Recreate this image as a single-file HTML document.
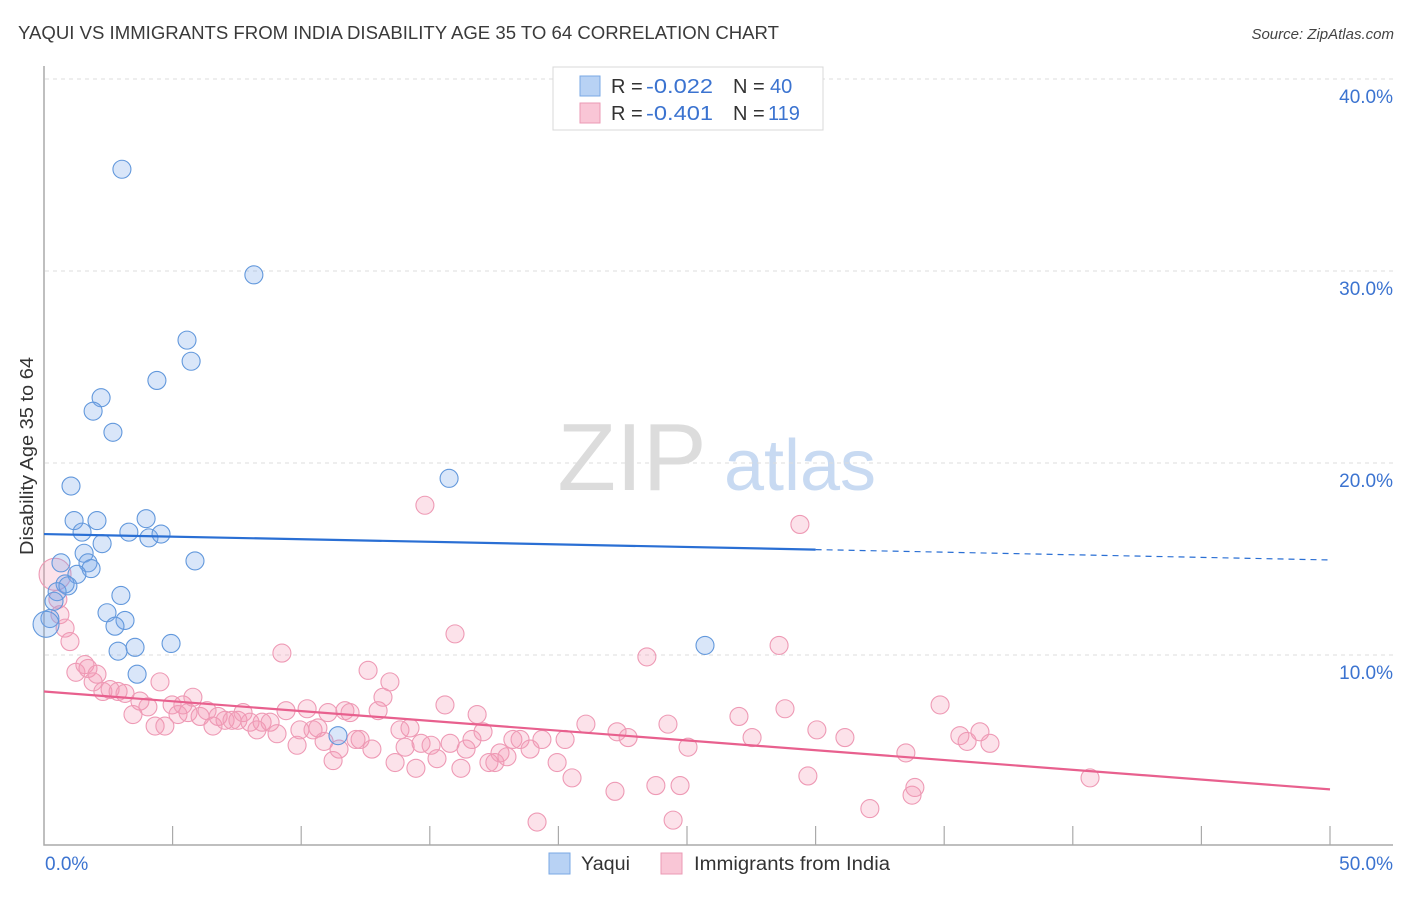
<!DOCTYPE html>
<html><head><meta charset="utf-8"><style>
body{margin:0;background:#fff;font-family:"Liberation Sans",sans-serif;}
svg text{font-family:"Liberation Sans",sans-serif;}
</style></head><body>
<svg id="chart" width="1406" height="892" viewBox="0 0 1406 892" xmlns="http://www.w3.org/2000/svg">
<text x="18" y="39" font-size="18" fill="#3a3a3a" textLength="761" lengthAdjust="spacingAndGlyphs">YAQUI VS IMMIGRANTS FROM INDIA DISABILITY AGE 35 TO 64 CORRELATION CHART</text>
<text x="1394" y="39" font-size="15" fill="#444" font-style="italic" text-anchor="end">Source: ZipAtlas.com</text>
<g>
<text x="632" y="490" font-size="96" fill="#dcdcdc" font-family="Liberation Serif, serif" text-anchor="middle">ZIP</text>
<text x="800" y="490" font-size="72" fill="#c8daf2" text-anchor="middle">atlas</text>
</g>
<g id="grid"></g>
<g id="axes"></g>
<g id="pts"></g>
<g id="trend"></g>
<text transform="translate(33,456) rotate(-90)" font-size="18" fill="#333" text-anchor="middle" textLength="198" lengthAdjust="spacingAndGlyphs">Disability Age 35 to 64</text>
<g>
<rect x="553" y="67" width="270" height="63" fill="#fff" stroke="#d8d8d8"/>
<rect x="580" y="76" width="20" height="20" fill="#b8d2f4" stroke="#7aa8e4"/>
<rect x="580" y="103" width="20" height="20" fill="#f9c6d6" stroke="#eb9ab4"/>
<text x="611" y="93" font-size="20" fill="#333">R =</text>
<text x="646" y="93" font-size="20" fill="#3b73d0" textLength="67" lengthAdjust="spacingAndGlyphs">-0.022</text>
<text x="733" y="93" font-size="20" fill="#333">N =</text>
<text x="770" y="93" font-size="20" fill="#3b73d0">40</text>
<text x="611" y="120" font-size="20" fill="#333">R =</text>
<text x="646" y="120" font-size="20" fill="#3b73d0" textLength="67" lengthAdjust="spacingAndGlyphs">-0.401</text>
<text x="733" y="120" font-size="20" fill="#333">N =</text>
<text x="768" y="120" font-size="20" fill="#3b73d0">119</text>
</g>
<g>
<rect x="549" y="853" width="21" height="21" fill="#b8d2f4" stroke="#7aa8e4"/>
<text x="581" y="870" font-size="19" fill="#333" textLength="49" lengthAdjust="spacingAndGlyphs">Yaqui</text>
<rect x="661" y="853" width="21" height="21" fill="#f9c6d6" stroke="#eb9ab4"/>
<text x="694" y="870" font-size="19" fill="#333" textLength="196" lengthAdjust="spacingAndGlyphs">Immigrants from India</text>
</g>
</svg>
<script>
const yTicks=[10,20,30,40];
const yTickLabels=["10.0%","20.0%","30.0%","40.0%"];
const xTickLabels=["0.0%","50.0%"];
const yaquiX=[3.03,8.16,5.56,5.72,4.39,2.22,1.91,2.68,15.75,1.05,1.17,2.06,3.97,1.48,3.30,4.08,4.55,2.26,1.56,5.87,0.66,1.71,1.83,1.28,0.82,0.93,0.51,2.99,0.39,2.45,3.15,2.76,0.23,2.88,3.54,4.94,3.62,11.43,25.70,0.08];
const yaquiY=[35.3,29.8,26.4,25.3,24.3,23.4,22.7,21.6,19.2,18.8,17.0,17.0,17.1,16.4,16.4,16.1,16.3,15.8,15.3,14.9,14.8,14.8,14.5,14.2,13.7,13.6,13.3,13.1,12.8,12.2,11.8,11.5,11.9,10.2,10.4,10.6,9.0,5.8,10.5,11.6];
const indiaX=[0.43,0.54,0.62,0.82,1.01,1.24,1.59,1.71,1.91,2.06,2.29,2.57,2.88,3.15,3.46,3.73,4.04,4.32,4.51,4.70,4.98,5.21,5.40,5.60,5.79,6.07,6.34,6.57,6.77,7.04,7.31,7.54,7.74,8.01,8.28,8.48,8.79,9.06,9.25,9.41,9.84,9.95,10.23,10.46,10.65,10.89,11.04,11.24,11.47,11.70,11.90,12.13,12.29,12.60,12.75,12.99,13.18,13.45,13.65,13.84,14.04,14.23,14.46,14.66,14.81,15.05,15.28,15.59,15.79,15.98,16.21,16.41,16.64,16.84,17.07,17.30,17.53,17.73,18.00,18.23,18.51,18.90,19.17,19.36,19.95,20.26,20.53,21.07,22.20,22.28,22.71,23.44,23.79,24.26,24.46,24.73,25.04,27.02,27.53,28.58,28.81,29.39,29.70,30.05,31.14,32.11,33.51,33.75,33.86,34.84,35.61,35.89,36.39,36.78,40.67];
const indiaY=[14.2,12.9,12.1,11.4,10.7,9.1,9.5,9.3,8.6,9.0,8.1,8.2,8.1,8.0,6.9,7.6,7.3,6.3,8.6,6.3,7.4,6.9,7.4,7.0,7.8,6.8,7.1,6.3,6.8,6.6,6.6,6.6,7.0,6.5,6.1,6.5,6.5,5.9,10.1,7.1,5.3,6.1,7.2,6.1,6.2,5.5,7.0,4.5,5.1,7.1,7.0,5.6,5.6,9.2,5.1,7.1,7.8,8.6,4.4,6.1,5.2,6.2,4.1,5.4,17.8,5.3,4.6,7.4,5.4,11.1,4.1,5.1,5.6,6.9,6.0,4.4,4.4,4.9,4.7,5.6,5.6,5.1,1.3,5.6,4.4,5.6,3.6,6.4,2.9,6.0,5.7,9.9,3.2,6.4,1.4,3.2,5.2,6.8,5.7,10.5,7.2,16.8,3.7,6.1,5.7,2.0,4.9,2.7,3.1,7.4,5.8,5.5,6.0,5.4,3.6];
const yaquiTrend=[16.3,-0.027];
const indiaTrend=[8.1,-0.102];
const NS="http://www.w3.org/2000/svg";
const xs=v=>44+v*25.72, ys=v=>847-v*19.2;
function mk(tag,attrs,parent){const e=document.createElementNS(NS,tag);for(const k in attrs)e.setAttribute(k,attrs[k]);parent.appendChild(e);return e;}
const grid=document.getElementById('grid'),axes=document.getElementById('axes'),pts=document.getElementById('pts'),tr=document.getElementById('trend');
yTicks.forEach((t,i)=>{
 const l=mk('line',{x1:45,x2:1393,y1:ys(t),y2:ys(t),stroke:'#dcdcdc','stroke-dasharray':'4,4'},grid);
 
 
 const tx=mk('text',{x:1393,y:ys(t)+24,'font-size':19,fill:'#3b73d0','text-anchor':'end'},axes);
 tx.textContent=yTickLabels[i];
 
 
});
const ax=mk('path',{d:'M44,66 V845 H1393',fill:'none',stroke:'#aaa','stroke-width':1.5},axes);


for(let i=1;i<=10;i++){
 const t=mk('line',{x1:xs(i*5),x2:xs(i*5),y1:826,y2:845,stroke:'#aaa','stroke-width':1.2},axes);
 
 
}
[[0,45,'start'],[50,1393,'end']].forEach((d,i)=>{
 const t=mk('text',{x:d[1],y:870,'font-size':19,fill:'#3b73d0','text-anchor':d[2]},axes);
 t.textContent=xTickLabels[i];
 
 
});
indiaX.forEach((x,i)=>{
 const c=mk('circle',{cx:xs(x),cy:ys(indiaY[i]),r:i===0?16:9,fill:'rgba(244,150,180,0.28)',stroke:'#ee9ab5','stroke-width':1.1},pts);
 
 
});
yaquiX.forEach((x,i)=>{
 const c=mk('circle',{cx:xs(x),cy:ys(yaquiY[i]),r:i===39?13:9,fill:'rgba(120,165,232,0.28)',stroke:'#6298dc','stroke-width':1.1},pts);
 
 
});
const yt=v=>yaquiTrend[0]+yaquiTrend[1]*v, it=v=>indiaTrend[0]+indiaTrend[1]*v;
let l1=mk('line',{x1:xs(0),y1:ys(yt(0)),x2:xs(30),y2:ys(yt(30)),stroke:'#2a6fd4','stroke-width':2.2},tr);


let l2=mk('line',{x1:xs(30),y1:ys(yt(30)),x2:xs(50),y2:ys(yt(50)),stroke:'#2a6fd4','stroke-width':1.2,'stroke-dasharray':'6,5'},tr);


let l3=mk('line',{x1:xs(0),y1:ys(it(0)),x2:xs(50),y2:ys(it(50)),stroke:'#e8608e','stroke-width':2.2},tr);


</script>
</body></html>
